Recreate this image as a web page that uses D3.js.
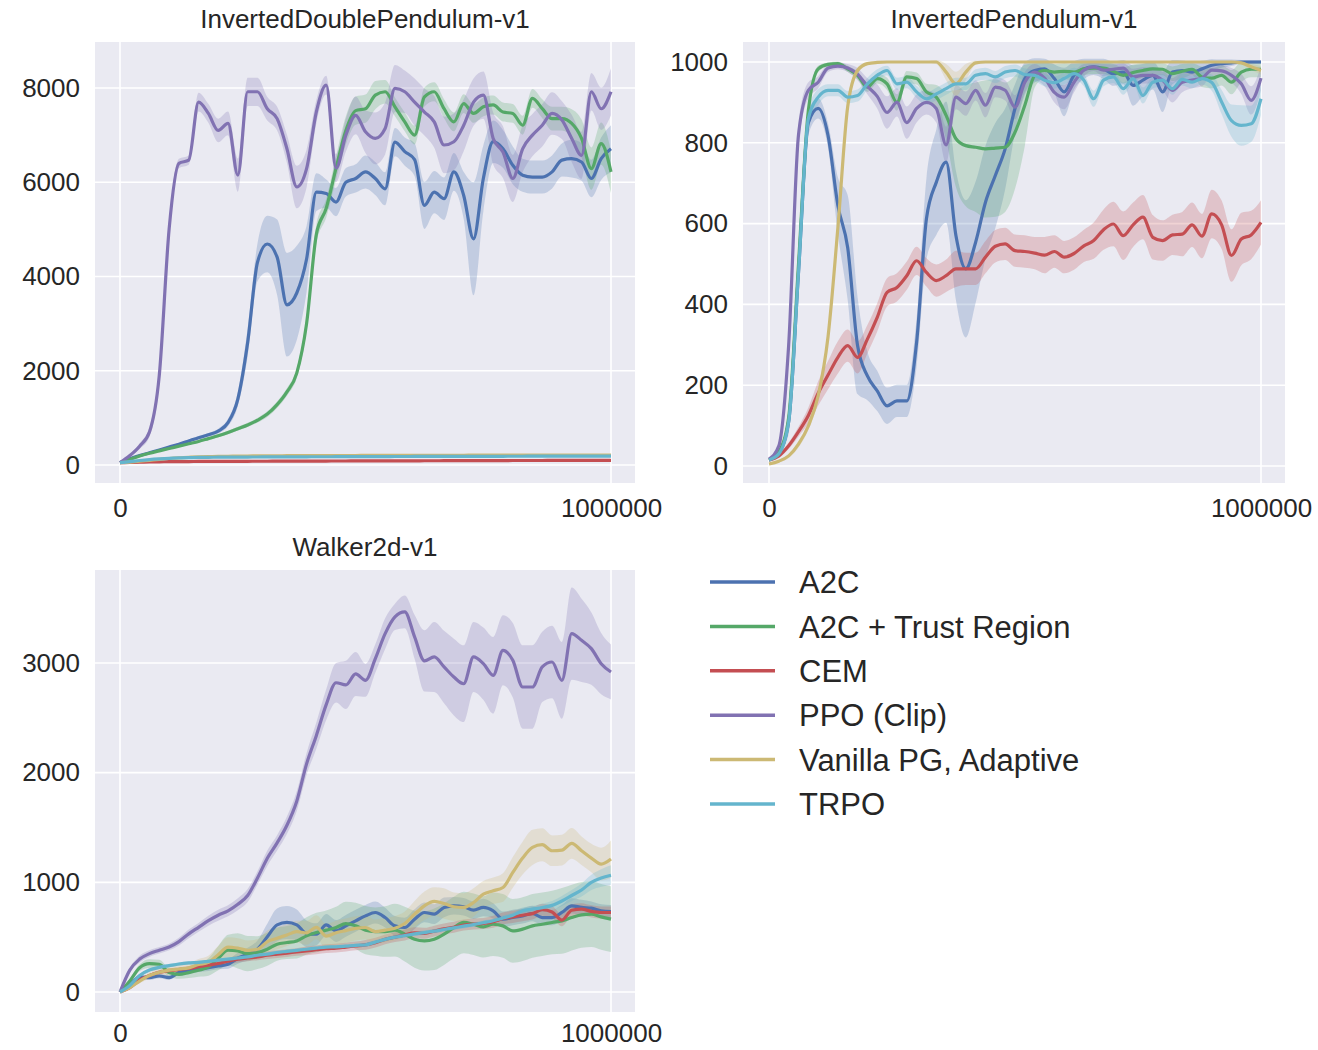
<!DOCTYPE html>
<html>
<head>
<meta charset="utf-8">
<script src="https://cdn.jsdelivr.net/npm/d3@7"></script>
<style>
body { margin: 0; background: #ffffff; }
svg text { font-family: "Liberation Sans", Arial, sans-serif; fill: #262626; }
</style>
</head>
<body>
<script>
// Training steps (in thousands), shared by every curve
var stepsK = [0,20,40,60,80,100,120,140,160,180,200,220,240,260,280,300,320,340,360,380,400,420,440,460,480,500,
  520,540,560,580,600,620,640,660,680,700,720,740,760,780,800,820,840,860,880,900,920,940,960,980,1000];

var methods = ['A2C', 'A2C + Trust Region', 'CEM', 'PPO (Clip)', 'Vanilla PG, Adaptive', 'TRPO'];
var colors = ['#4C72B0', '#55A868', '#C44E52', '#8172B2', '#CCB974', '#64B5CD'];

var xTicks = [0, 1000000];
var idpTicks = [0, 2000, 4000, 6000, 8000];
var ipTicks = [0, 200, 400, 600, 800, 1000];
var walkerTicks = [0, 1000, 2000, 3000];

// ---- InvertedDoublePendulum-v1 (mean, spread) ----
var idpA2C = [50,130,200,260,320,380,440,510,580,640,
  720,900,1400,2600,4300,4690,4410,3400,3650,4370,
  5790,5760,5580,6000,6080,6220,6080,5860,6850,6650,
  6480,5510,5790,5650,6220,5720,4800,6080,6860,6710,
  6360,6150,6110,6110,6220,6470,6500,6430,6080,6500,
  6710];
var idpA2CSd = [10,10,15,20,20,25,25,30,35,40,
  50,80,150,300,400,600,800,1100,1000,700,
  400,300,300,300,300,350,350,350,300,300,
  350,500,450,450,400,500,1200,700,450,400,
  400,350,350,350,350,350,400,400,400,450,
  500];
var idpTR = [50,120,190,250,300,350,400,450,500,560,
  620,690,770,850,950,1080,1280,1550,1950,3000,
  4900,5450,6300,7100,7520,7560,7850,7920,7600,7280,
  7000,7810,7920,7560,7280,7670,7460,7600,7640,7490,
  7460,7210,7780,7560,7350,7350,7250,6930,6290,6820,
  6220];
var idpTRSd = [10,10,15,15,20,20,20,25,25,30,
  30,35,40,45,50,60,70,80,100,150,
  200,200,250,300,300,300,300,250,200,200,
  200,200,200,200,200,200,200,200,200,200,
  200,200,200,200,250,250,300,400,450,450,
  450];
var idpCEM = [50,55,60,64,67,70,72,73,75,76,
  77,78,78,79,80,80,81,82,82,83,
  84,84,85,85,86,86,87,88,88,89,
  89,90,90,91,91,92,92,93,94,94,
  95,95,96,96,97,97,98,98,99,99,
  100];
var idpCEMSd = [5,8,8,8,8,8,8,8,8,8,
  8,8,8,8,8,8,8,8,8,8,
  8,8,8,8,8,8,8,8,8,8,
  8,8,8,8,8,8,8,8,8,8,
  8,8,8,8,8,8,8,8,8,8,
  8];
var idpPPO = [50,200,400,700,1900,5000,6400,6470,7700,7460,
  7100,7250,6150,7920,7920,7560,7350,6710,5900,6290,
  7500,8060,6300,7000,7420,7070,6930,7140,7990,7920,
  7700,7490,7280,6790,6860,7210,7700,7850,6930,6640,
  6080,6710,7000,7210,7460,7320,6930,6570,7920,7560,
  7920];
var idpPPOSd = [10,20,60,100,150,150,100,100,200,200,
  250,250,350,300,300,250,250,300,450,400,
  250,200,300,350,400,450,550,550,500,450,
  500,500,550,600,600,550,500,500,550,550,
  500,500,450,450,450,400,500,500,400,450,
  500];
var idpVPG = [50,62,80,100,120,138,152,163,172,178,
  183,186,189,191,193,195,196,197,198,199,
  200,200,201,202,202,203,203,204,204,205,
  205,206,206,207,207,207,208,208,208,209,
  209,209,210,210,210,210,211,211,211,212,
  212];
var idpVPGSd = [5,8,10,10,10,10,10,10,10,10,
  10,10,10,10,10,10,10,10,10,10,
  10,10,10,10,10,10,10,10,10,10,
  10,10,10,10,10,10,10,10,10,10,
  10,10,10,10,10,10,10,10,10,10,
  10];
var idpTRPO = [50,70,95,115,130,142,150,156,160,163,
  165,167,168,169,170,171,172,173,173,174,
  175,175,176,177,177,178,178,179,180,180,
  181,181,182,182,183,183,184,184,185,185,
  186,186,187,187,188,188,189,189,190,190,
  190];
var idpTRPOSd = [5,8,10,10,10,10,10,10,10,10,
  10,10,10,10,10,10,10,10,10,10,
  10,10,10,10,10,10,10,10,10,10,
  10,10,10,10,10,10,10,10,10,10,
  10,10,10,10,10,10,10,10,10,10,
  10];

// ---- InvertedPendulum-v1 (mean, spread) ----
var ipA2C = [15,33,110,480,850,885,818,645,540,298,
  223,186,149,161,161,306,612,702,752,570,
  488,554,653,719,785,885,959,979,983,959,
  926,967,983,988,983,971,975,942,955,967,
  926,975,979,975,983,992,996,998,1000,1000,
  1000];
var ipA2CSd = [3,5,30,40,30,25,30,70,130,120,
  60,50,45,40,40,60,100,130,150,160,
  170,150,140,130,100,60,40,30,25,35,
  60,35,25,20,25,30,30,50,40,35,
  50,30,25,25,20,15,10,8,5,5,
  5];
var ipTR = [15,35,120,500,880,983,994,996,983,967,
  938,959,946,900,963,959,926,913,868,810,
  793,789,785,787,789,826,893,967,979,975,
  977,975,983,985,985,977,967,974,979,983,
  982,971,977,982,963,960,967,950,975,982,
  982];
var ipTRSd = [3,5,20,30,15,8,5,5,8,10,
  12,12,15,20,15,15,20,30,60,120,
  150,160,170,170,160,140,100,30,20,20,
  20,20,15,15,15,18,20,20,18,15,
  15,18,18,15,25,25,25,30,25,20,
  20];
var ipCEM = [15,25,50,85,125,180,225,269,298,269,
  314,368,430,442,471,508,479,459,471,488,
  488,488,517,544,550,533,531,527,522,531,
  517,526,545,558,585,599,570,597,616,566,
  558,572,574,597,569,624,597,521,562,572,
  603];
var ipCEMSd = [3,5,8,12,20,30,35,40,40,40,
  35,35,35,35,35,35,35,40,40,45,
  40,40,40,40,40,40,40,40,45,40,
  40,40,40,45,50,55,60,55,55,55,
  50,50,55,55,55,60,60,65,65,60,
  55];
var ipPPO = [17,50,300,820,930,950,985,990,985,970,
  940,915,875,900,850,885,900,885,795,913,
  897,930,893,938,930,888,950,975,960,925,
  913,950,980,988,980,982,985,963,967,967,
  955,930,950,955,960,980,978,967,946,905,
  960];
var ipPPOSd = [3,5,30,30,20,15,10,8,10,15,
  20,30,40,35,40,35,30,35,45,30,
  30,25,30,25,25,30,25,20,20,25,
  30,25,15,10,15,12,12,20,20,20,
  25,30,25,20,20,15,15,18,25,35,
  30];
var ipVPG = [5,12,25,54,99,174,320,590,890,979,
  996,999,1000,1000,1000,1000,1000,1000,975,946,
  975,998,1000,1000,1000,1000,1000,1000,1000,1000,
  1000,1000,1000,1000,1000,1000,1000,1000,1000,1000,
  1000,1000,1000,1000,1000,1000,1000,1000,998,988,
  979];
var ipVPGSd = [2,3,5,8,10,12,15,20,15,8,
  4,2,2,2,2,2,2,5,20,30,
  20,5,2,2,2,2,2,2,2,2,
  2,2,2,2,2,2,2,2,2,2,
  2,2,2,2,2,2,2,2,4,8,
  10];
var ipTRPO = [15,30,110,480,860,913,930,930,913,917,
  946,967,979,946,950,926,909,921,934,946,
  946,967,971,963,975,979,969,967,955,949,
  959,971,955,909,955,963,934,959,917,950,
  955,934,957,950,959,949,901,855,843,847,
  909];
var ipTRPOSd = [3,5,20,30,25,20,15,15,15,15,
  15,15,12,15,15,15,15,15,15,15,
  15,15,15,15,15,15,15,15,15,15,
  15,15,15,20,15,15,15,15,20,15,
  15,15,15,15,15,20,30,40,50,45,
  40];

// ---- Walker2d-v1 (mean, spread) ----
var wA2C = [0,70,137,131,146,131,177,192,207,222,
  237,253,308,344,390,503,612,634,612,533,
  527,612,557,603,649,694,725,679,603,588,
  664,725,710,771,786,777,746,771,740,664,
  679,694,716,679,679,725,786,771,765,740,
  734];
var wA2CSd = [5,15,20,20,20,20,20,25,25,30,
  30,40,50,60,80,120,150,150,140,120,
  100,100,100,100,100,100,100,90,90,90,
  90,90,90,90,80,80,80,80,70,70,
  70,70,70,70,70,70,70,70,60,60,
  60];
var wTR = [0,100,222,259,253,177,161,177,198,228,
  308,381,375,350,359,390,436,451,466,512,
  542,564,588,624,603,564,551,551,564,527,
  481,466,481,527,588,634,618,594,618,603,
  557,573,603,618,634,649,679,704,710,685,
  664];
var wTRSd = [5,20,30,40,40,40,40,50,60,80,
  110,140,160,160,150,150,150,150,160,170,
  180,180,190,200,210,220,220,230,240,250,
  260,270,280,280,280,280,280,280,290,290,
  290,290,290,290,290,300,300,300,300,300,
  300];
var wCEM = [0,40,110,150,180,195,205,215,230,245,
  260,280,300,310,320,335,345,355,365,375,
  385,395,400,410,420,430,450,480,500,520,
  540,535,555,575,590,610,620,625,640,670,
  685,700,715,750,730,655,745,755,735,725,
  725];
var wCEMSd = [5,10,15,15,20,20,20,20,25,25,
  25,30,30,30,30,35,35,35,35,40,
  40,40,40,40,40,45,45,45,45,50,
  50,50,50,50,50,50,50,50,55,55,
  55,55,55,55,55,55,55,55,55,55,
  55];
var wPPO = [0,200,300,350,380,410,460,530,590,650,
  700,740,800,880,1040,1220,1360,1520,1740,2080,
  2340,2620,2820,2800,2900,2842,3040,3268,3421,3466,
  3238,3019,3055,2964,2872,2811,3055,2994,2888,3116,
  3025,2781,2781,2964,3009,2842,3268,3207,3131,2994,
  2918];
var wPPOSd = [10,20,30,30,30,30,35,40,40,45,
  50,50,55,60,60,70,70,80,90,100,
  120,140,180,220,200,150,130,140,120,150,
  200,280,320,330,350,350,320,330,350,320,
  340,380,380,320,330,350,420,380,330,280,
  250];
var wVPG = [0,40,100,150,180,200,210,220,250,270,
  340,410,400,380,390,460,490,520,550,540,
  590,510,540,560,580,588,551,564,582,624,
  710,786,826,807,777,771,816,892,923,953,
  1090,1221,1319,1343,1288,1294,1355,1288,1221,1166,
  1212];
var wVPGSd = [5,10,20,30,40,40,40,40,50,60,
  80,90,90,90,90,100,100,100,100,110,
  110,110,110,110,110,110,110,110,110,110,
  120,130,130,140,130,130,130,120,120,130,
  140,150,160,150,140,140,140,130,130,150,
  170];
var wTRPO = [0,60,150,200,225,240,255,265,270,280,
  290,300,310,320,335,345,360,370,380,390,
  400,410,412,418,425,430,455,480,500,515,
  530,542,555,570,585,600,615,632,650,675,
  700,740,755,770,790,830,880,930,1000,1040,
  1065];
var wTRPOSd = [5,10,15,15,15,15,15,15,15,15,
  15,15,15,15,15,15,15,15,15,15,
  15,15,15,15,15,20,20,20,20,20,
  20,20,20,20,20,20,20,20,20,25,
  25,30,30,35,40,45,50,60,70,80,
  90];

var WIDTH = 1318;
var HEIGHT = 1050;

var panels = [
  {title: 'InvertedDoublePendulum-v1', left: 95, top: 42, width: 540, height: 441, xPad: 16,
   xRange: [120, 611], yDomain: [0, 8000], yRange: [465, 88], yTicks: idpTicks,
   means: [idpA2C, idpTR, idpCEM, idpPPO, idpVPG, idpTRPO],
   sds: [idpA2CSd, idpTRSd, idpCEMSd, idpPPOSd, idpVPGSd, idpTRPOSd]},
  {title: 'InvertedPendulum-v1', left: 743, top: 42, width: 542, height: 441, xPad: 16,
   xRange: [769, 1261], yDomain: [0, 1000], yRange: [466, 62], yTicks: ipTicks,
   means: [ipA2C, ipTR, ipCEM, ipPPO, ipVPG, ipTRPO],
   sds: [ipA2CSd, ipTRSd, ipCEMSd, ipPPOSd, ipVPGSd, ipTRPOSd]},
  {title: 'Walker2d-v1', left: 95, top: 570, width: 540, height: 442, xPad: 12,
   xRange: [120, 611], yDomain: [0, 3000], yRange: [992, 663], yTicks: walkerTicks,
   means: [wA2C, wTR, wCEM, wPPO, wVPG, wTRPO],
   sds: [wA2CSd, wTRSd, wCEMSd, wPPOSd, wVPGSd, wTRPOSd]}
];

var svg = d3.select('body')
.append('svg')
.attr('width', WIDTH)
.attr('height', HEIGHT);

panels.forEach(function(p, pi){
  var x = d3.scaleLinear().domain([0, 1000000]).range(p.xRange);
  var y = d3.scaleLinear().domain(p.yDomain).range(p.yRange);
  var g = svg.append('g');

  g.append('rect')
  .attr('x', p.left).attr('y', p.top)
  .attr('width', p.width).attr('height', p.height)
  .attr('fill', '#EAEAF2');

  // white grid lines at the ticks
  g.selectAll('line.hgrid')
  .data(p.yTicks)
  .enter()
  .append('line')
  .attr('class', 'hgrid')
  .attr('x1', p.left).attr('x2', p.left + p.width)
  .attr('y1', function(d){return y(d);}).attr('y2', function(d){return y(d);})
  .attr('stroke', '#ffffff').attr('stroke-width', 1.6);

  g.selectAll('line.vgrid')
  .data(xTicks)
  .enter()
  .append('line')
  .attr('class', 'vgrid')
  .attr('y1', p.top).attr('y2', p.top + p.height)
  .attr('x1', function(d){return x(d);}).attr('x2', function(d){return x(d);})
  .attr('stroke', '#ffffff').attr('stroke-width', 1.6);

  svg.append('clipPath')
  .attr('id', 'clip' + pi)
  .append('rect')
  .attr('x', p.left).attr('y', p.top)
  .attr('width', p.width).attr('height', p.height);

  var plot = g.append('g').attr('clip-path', 'url(#clip' + pi + ')');

  var rows = methods.map(function(m, i){
    return stepsK.map(function(s, j){
      return {step: s * 1000, mean: p.means[i][j], sd: p.sds[i][j]};
    });
  });

  var area = d3.area()
  .x(function(d){return x(d.step);})
  .y0(function(d){return y(d.mean - d.sd);})
  .y1(function(d){return y(d.mean + d.sd);})
  .curve(d3.curveMonotoneX);

  var line = d3.line()
  .x(function(d){return x(d.step);})
  .y(function(d){return y(d.mean);})
  .curve(d3.curveMonotoneX);

  plot.selectAll('path.band')
  .data(rows)
  .enter()
  .append('path')
  .attr('class', 'band')
  .attr('d', area)
  .attr('fill', function(d, i){return colors[i];})
  .attr('fill-opacity', 0.25)
  .attr('stroke', 'none');

  plot.selectAll('path.curve')
  .data(rows)
  .enter()
  .append('path')
  .attr('class', 'curve')
  .attr('d', line)
  .attr('fill', 'none')
  .attr('stroke', function(d, i){return colors[i];})
  .attr('stroke-width', 3.2)
  .attr('stroke-linejoin', 'round');

  // axes (no spines, seaborn darkgrid look)
  var yAxis = d3.axisLeft(y).tickValues(p.yTicks).tickSize(0).tickPadding(15).tickFormat(d3.format('d'));
  var ya = g.append('g').attr('transform', 'translate(' + p.left + ',0)').call(yAxis);
  ya.select('.domain').remove();
  ya.selectAll('text').attr('font-size', 26).attr('font-family', '"Liberation Sans", Arial, sans-serif').style('fill', '#262626');

  var xAxis = d3.axisBottom(x).tickValues(xTicks).tickSize(0).tickPadding(p.xPad).tickFormat(d3.format('d'));
  var xa = g.append('g').attr('transform', 'translate(0,' + (p.top + p.height) + ')').call(xAxis);
  xa.select('.domain').remove();
  xa.selectAll('text').attr('font-size', 26).attr('font-family', '"Liberation Sans", Arial, sans-serif').style('fill', '#262626');

  g.append('text')
  .attr('x', p.left + p.width / 2)
  .attr('y', p.top - 14)
  .attr('text-anchor', 'middle')
  .attr('font-size', 26)
  .text(p.title);
});

// legend
var legend = svg.append('g');

legend.selectAll('line')
.data(methods)
.enter()
.append('line')
.attr('x1', 710).attr('x2', 775)
.attr('y1', function(d, i){return 582 + i * 44.4;})
.attr('y2', function(d, i){return 582 + i * 44.4;})
.attr('stroke', function(d, i){return colors[i];})
.attr('stroke-width', 3.5);

legend.selectAll('text')
.data(methods)
.enter()
.append('text')
.attr('x', 799)
.attr('y', function(d, i){return 582 + i * 44.4;})
.attr('dy', '0.36em')
.attr('font-size', 31)
.text(function(d){return d;});
</script>
</body>
</html>
